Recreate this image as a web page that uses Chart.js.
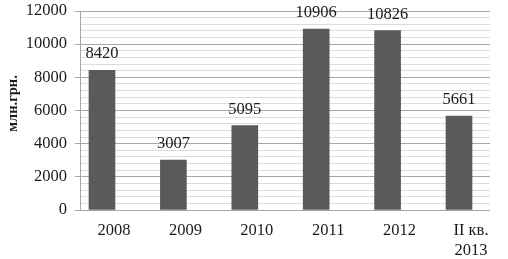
<!DOCTYPE html>
<html>
<head>
<meta charset="utf-8">
<script src="https://cdn.jsdelivr.net/npm/chart.js@4"></script>
<style>
  html, body { margin: 0; padding: 0; background: #fff; }
  #wrap { width: 508px; height: 259px; }
</style>
</head>
<body>
<div id="wrap"><canvas id="chart"></canvas></div>
<script>
const categories = ['2008', '2009', '2010', '2011', '2012', ['II кв.', '2013']];
const values = [8420, 3007, 5095, 10906, 10826, 5661];
const yTicks = [0, 2000, 4000, 6000, 8000, 10000, 12000];
const yTitle = 'млн.грн.';

const serif = 'Liberation Serif';

// value labels above each bar + rotated axis title
const extras = {
    id: 'extras',
    afterDatasetsDraw(chart) {
        const ctx = chart.ctx;
        const meta = chart.getDatasetMeta(0);
        ctx.save();
        ctx.font = '16.5px "' + serif + '"';
        ctx.fillStyle = '#1a1a1a';
        ctx.textAlign = 'center';
        ctx.textBaseline = 'bottom';
        meta.data.forEach((bar, i) => {
            ctx.fillText(String(values[i]), bar.x, bar.y - 8);
        });
        const area = chart.chartArea;
        ctx.translate(17, (area.top + area.bottom) / 2 - 7);
        ctx.rotate(-Math.PI / 2);
        ctx.font = 'bold 14.5px "' + serif + '"';
        ctx.textBaseline = 'alphabetic';
        ctx.fillText(yTitle, 0, 0);
        ctx.restore();
    }
};

new Chart(document.getElementById('chart'), {
    type: 'bar',
    data: {
        datasets: [{
            data: values.map((v, i) => ({ x: i, y: v })),
            backgroundColor: '#5a5a5a',
            borderWidth: 0,
            barThickness: 26
        }]
    },
    options: {
        responsive: true,
        maintainAspectRatio: false,
        animation: false,
        layout: { padding: { top: 11, right: 18, left: 0, bottom: 0 } },
        plugins: { legend: { display: false }, tooltip: { enabled: false } },
        scales: {
            x: {
                type: 'linear',
                offset: false,
                min: -0.308,
                max: 5.434,
                afterBuildTicks: (scale) => {
                    scale.ticks = categories.map((_, i) => ({ value: i }));
                },
                afterFit: (scale) => { scale.height = 49; },
                grid: { display: false, drawTicks: false },
                border: { display: false },
                ticks: {
                    autoSkip: false,
                    maxRotation: 0,
                    padding: 11,
                    labelOffset: 12,
                    color: '#1a1a1a',
                    font: { family: serif, size: 16.5 },
                    callback: (v) => categories[v]
                }
            },
            y: {
                min: 0,
                max: 12000,
                afterFit: (scale) => {
                    scale.width = 80;
                    scale.paddingTop = 0;
                    scale.paddingBottom = 0;
                },
                border: { display: true, color: '#a6a6a6' },
                grid: {
                    color: (c) => (c.tick && yTicks.includes(c.tick.value)) ? '#a6a6a6' : '#dcdcdc',
                    tickColor: (c) => (c.tick && yTicks.includes(c.tick.value)) ? '#a6a6a6' : 'rgba(0,0,0,0)',
                    tickLength: 5
                },
                ticks: {
                    stepSize: 400,
                    autoSkip: false,
                    padding: 8,
                    color: '#1a1a1a',
                    font: { family: serif, size: 16.5 },
                    callback: (v) => yTicks.includes(v) ? String(v) : ''
                }
            }
        }
    },
    plugins: [extras]
});
</script>
</body>
</html>
